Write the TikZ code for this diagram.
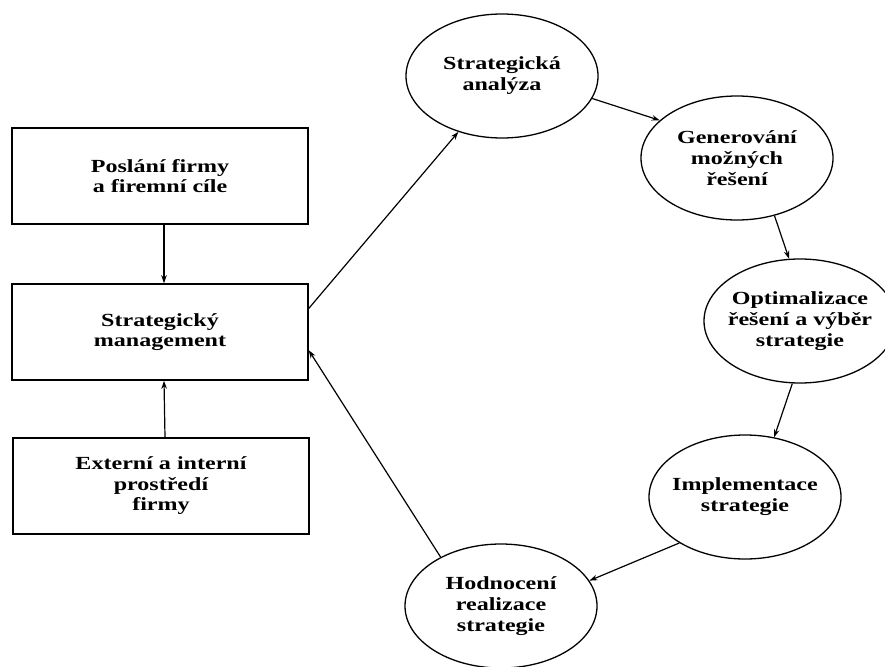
\documentclass[tikz,border=0pt]{standalone}
\usepackage{fontspec}
\setmainfont{Liberation Serif}[FakeStretch=1.3]
\usetikzlibrary{shapes.geometric,arrows.meta}

\tikzset{
  box/.style={draw=black, line width=1.5pt, rectangle, minimum width=296pt, minimum height=96pt, align=center, font=\bfseries\fontsize{18.5}{20.5}\selectfont},
  bubble/.style={draw=black, line width=1.3pt, ellipse, minimum width=192pt, minimum height=124pt, inner xsep=-15pt, inner ysep=0pt, align=center, font=\bfseries\fontsize{18.5}{21}\selectfont},
  link/.style={draw=black, line width=1.2pt, -{Stealth[length=8pt,width=5.5pt]}}
}

\begin{document}
\begin{tikzpicture}[x=1pt,y=-1pt]
            \useasboundingbox (0,0) rectangle (885,666);
            \node[box] (pf) at (160,176) {Poslání firmy\\a firemní cíle};
            \node[box] (sm) at (160,332) {Strategický\\management};
            \node[box] (ep) at (161,486) {Externí a interní\\prostředí\\firmy};
            \node[bubble] (an) at (502,76) {Strategická\\analýza};
            \node[bubble] (gen) at (737,158) {Generování\\možných\\řešení};
            \node[bubble] (opt) at (800,321) {Optimalizace\\řešení a výběr\\strategie};
            \node[bubble] (imp) at (745,497) {Implementace\\strategie};
            \node[bubble] (hod) at (501,606) {Hodnocení\\realizace\\strategie};
            \draw[link] ([xshift=4pt]pf.south) -- ([xshift=4pt]sm.north);
            \draw[link] ([xshift=4pt]ep.north) -- ([xshift=4pt]sm.south);
            \draw[link] (sm.9) -- (an.232);
            \draw[link] (an.-14) -- (gen.154);
            \draw[link] (gen.-57) -- (opt.100);
            \draw[link] (opt.263) -- (imp.64);
            \draw[link] (imp.215) -- (hod.16);
            \draw[link] (hod.141) -- (sm.-7);
        \end{tikzpicture}
\end{document}
